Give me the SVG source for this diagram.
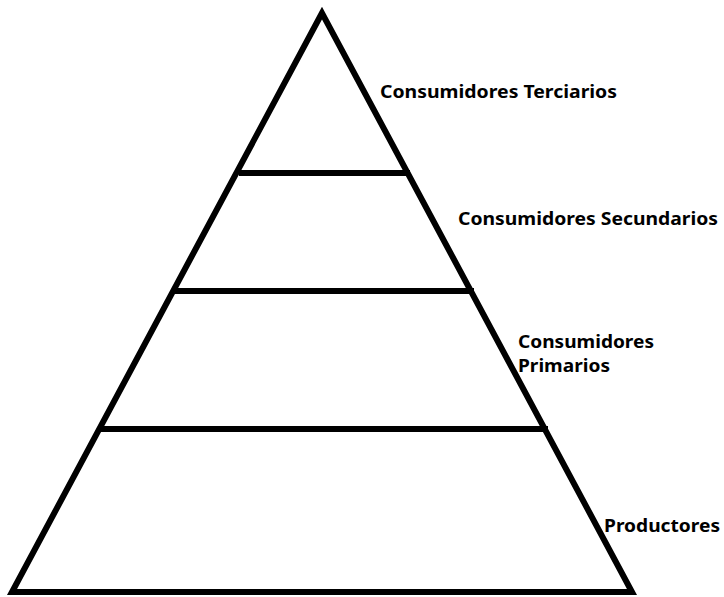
<svg xmlns="http://www.w3.org/2000/svg" width="724" height="597" viewBox="0 0 724 597">
<style>
.ln{stroke:#000;stroke-width:6;fill:none;stroke-linejoin:miter;}
.lb{font-family:"Noto Sans","DejaVu Sans",sans-serif;font-weight:bold;font-size:17px;fill:#000;}
</style>
<rect width="724" height="597" fill="#fff"/>
<g id="connectors">
<polygon class="ln" points="322,13 12,592 632,592"/>
<line class="ln" x1="239" y1="173" x2="410" y2="173"/>
<line class="ln" x1="172" y1="291" x2="474" y2="291"/>
<line class="ln" x1="101" y1="429" x2="548" y2="429"/>
</g>
<g id="n1"><text class="lb" x="380" y="98" textLength="237" lengthAdjust="spacingAndGlyphs">Consumidores Terciarios</text></g>
<g id="n2"><text class="lb" x="458" y="225" textLength="260" lengthAdjust="spacingAndGlyphs">Consumidores Secundarios</text></g>
<g id="n3"><text class="lb" x="518" y="348" textLength="136" lengthAdjust="spacingAndGlyphs">Consumidores</text><text class="lb" x="518" y="372" textLength="92" lengthAdjust="spacingAndGlyphs">Primarios</text></g>
<g id="n4"><text class="lb" x="604" y="532" textLength="116" lengthAdjust="spacingAndGlyphs">Productores</text></g>
</svg>
